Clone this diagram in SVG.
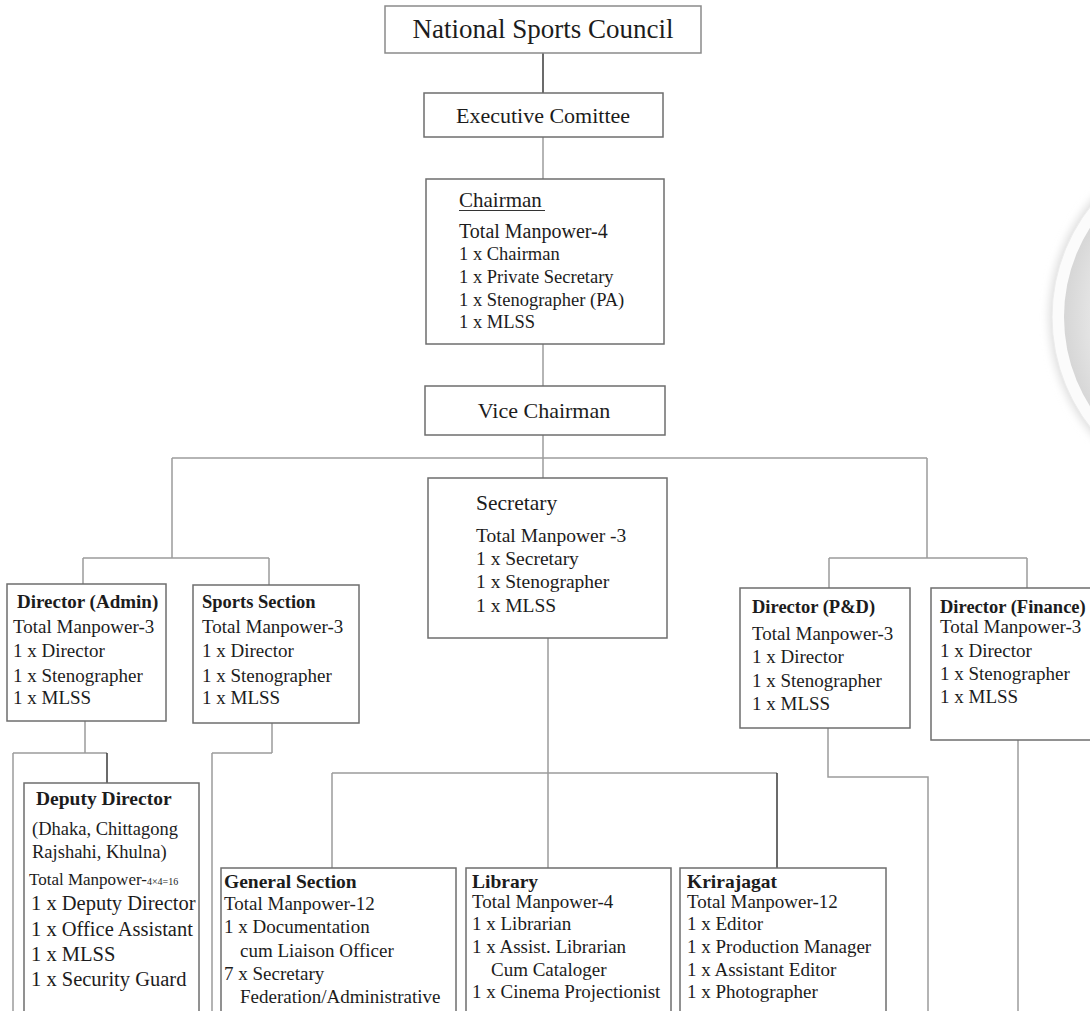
<svg xmlns="http://www.w3.org/2000/svg" width="1090" height="1011" viewBox="0 0 1090 1011">
<style>
.box{fill:#fff;stroke:#6e6e6e;stroke-width:1.5}
.ln{fill:none;stroke:#9c9c9c;stroke-width:1.5}
.dk{stroke:#3a3a3a}
text{font-family:"Liberation Serif","Times New Roman",serif;fill:#1c1c1c}
.h{font-weight:bold;font-size:19px}
.t{font-size:19px}
.c{text-anchor:middle}
</style>
<defs>
<radialGradient id="rg" cx="0.55" cy="0.5" r="0.55">
<stop offset="0" stop-color="#f6f6f6"/>
<stop offset="0.75" stop-color="#eeeeee"/>
<stop offset="1" stop-color="#d6d6d6"/>
</radialGradient>
<filter id="bl" x="-20%" y="-20%" width="140%" height="140%"><feGaussianBlur stdDeviation="4"/></filter>
</defs>
<rect width="1090" height="1011" fill="#fff"/>
<g id="emblem">
<circle cx="1230" cy="317" r="181" fill="#dedede" filter="url(#bl)"/>
<circle cx="1230" cy="317" r="178" fill="#fbfbfb" stroke="#ececec" stroke-width="1"/>
<circle cx="1230" cy="317" r="166" fill="url(#rg)"/>
</g>
<g id="connectors">
<path class="ln dk" d="M543 53V93"/>
<path class="ln" d="M543 137V179"/>
<path class="ln" d="M543 344V386"/>
<path class="ln" d="M543 435V478"/>
<path class="ln" d="M172 458H927"/>
<path class="ln" d="M172 458V558M83 558H269M83 558V584M269 558V585"/>
<path class="ln" d="M927 458V558M829 558H1027M829 558V588M1027 558V588"/>
<path class="ln" d="M85 721V753M13 753H107M13 753V1011"/>
<path class="ln dk" d="M107 753V783"/>
<path class="ln" d="M272 723V753M212 753H272M212 753V1011"/>
<path class="ln" d="M548 638V868M332 773H777M332 773V868"/>
<path class="ln dk" d="M777 773V868"/>
<path class="ln" d="M828 728V777H928V1011"/>
<path class="ln" d="M1018 740V1011"/>
</g>
<g id="nsc">
<rect class="box" x="385" y="6" width="316" height="47" style="stroke:#8a8a8a"/>
<text class="c" x="543" y="38" font-size="27">National Sports Council</text>
</g>
<g id="executive">
<rect class="box" x="424" y="93" width="239" height="44"/>
<text class="c" x="543" y="123" font-size="22">Executive Comittee</text>
</g>
<g id="chairman">
<rect class="box" x="426" y="179" width="238" height="165"/>
<text x="459" y="207" font-size="21">Chairman</text>
<path d="M459 210.5H545" stroke="#333" stroke-width="1"/>
<text x="459" y="238" font-size="20">Total Manpower-4</text>
<text x="459" y="260" font-size="18.5">1 x Chairman</text>
<text x="459" y="283" font-size="18.5">1 x Private Secretary</text>
<text x="459" y="306" font-size="18.5">1 x Stenographer (PA)</text>
<text x="459" y="328" font-size="18.5">1 x MLSS</text>
</g>
<g id="vice-chairman">
<rect class="box" x="425" y="386" width="240" height="49"/>
<text class="c" x="544" y="418" font-size="22">Vice Chairman</text>
</g>
<g id="secretary">
<rect class="box" x="428" y="478" width="239" height="160"/>
<text x="476" y="510" font-size="21.5">Secretary</text>
<text x="476" y="542" font-size="19.5">Total Manpower -3</text>
<text x="476" y="565" font-size="19.5">1 x Secretary</text>
<text x="476" y="588" font-size="19.5">1 x Stenographer</text>
<text x="476" y="612" font-size="19.5">1 x MLSS</text>
</g>
<g id="director-admin">
<rect class="box" x="7" y="584" width="159" height="137"/>
<text class="h" x="17" y="608" font-size="18.5">Director (Admin)</text>
<text class="t" x="13" y="633">Total Manpower-3</text>
<text class="t" x="13" y="657">1 x Director</text>
<text class="t" x="13" y="682">1 x Stenographer</text>
<text class="t" x="13" y="704">1 x MLSS</text>
</g>
<g id="sports-section">
<rect class="box" x="193" y="585" width="166" height="138"/>
<text class="h" x="202" y="608" style="font-size:18.5px">Sports Section</text>
<text class="t" x="202" y="633">Total Manpower-3</text>
<text class="t" x="202" y="657">1 x Director</text>
<text class="t" x="202" y="682">1 x Stenographer</text>
<text class="t" x="202" y="704">1 x MLSS</text>
</g>
<g id="director-pd">
<rect class="box" x="740" y="588" width="170" height="140"/>
<text class="h" x="752" y="613" style="font-size:18.5px">Director (P&amp;D)</text>
<text class="t" x="752" y="640">Total Manpower-3</text>
<text class="t" x="752" y="663">1 x Director</text>
<text class="t" x="752" y="687">1 x Stenographer</text>
<text class="t" x="752" y="710">1 x MLSS</text>
</g>
<g id="director-finance">
<rect class="box" x="931" y="588" width="170" height="152"/>
<text class="h" x="940" y="613" style="font-size:18.5px">Director (Finance)</text>
<text class="t" x="940" y="633">Total Manpower-3</text>
<text class="t" x="940" y="657">1 x Director</text>
<text class="t" x="940" y="680">1 x Stenographer</text>
<text class="t" x="940" y="703">1 x MLSS</text>
</g>
<g id="deputy-director">
<rect class="box" x="24" y="783" width="175" height="240"/>
<text class="h" x="36" y="805" style="font-size:19.5px">Deputy Director</text>
<text x="32" y="835" font-size="18.5">(Dhaka, Chittagong</text>
<text x="32" y="858" font-size="18.5">Rajshahi, Khulna)</text>
<text x="29" y="885" font-size="17">Total Manpower-<tspan font-size="10">4×4=16</tspan></text>
<text x="31" y="910" font-size="20.5">1 x Deputy Director</text>
<text x="31" y="936" font-size="20.5">1 x Office Assistant</text>
<text x="31" y="961" font-size="20.5">1 x MLSS</text>
<text x="31" y="986" font-size="20.5">1 x Security Guard</text>
</g>
<g id="general-section">
<rect class="box" x="221" y="868" width="235" height="155"/>
<text class="h" x="224" y="888" style="font-size:19.5px">General Section</text>
<text class="t" x="224" y="910">Total Manpower-12</text>
<text class="t" x="224" y="933">1 x Documentation</text>
<text class="t" x="240" y="957">cum Liaison Officer</text>
<text class="t" x="224" y="980">7 x Secretary</text>
<text class="t" x="240" y="1003">Federation/Administrative</text>
</g>
<g id="library">
<rect class="box" x="466" y="868" width="205" height="155"/>
<text class="h" x="472" y="888" style="font-size:19.5px">Library</text>
<text class="t" x="472" y="908">Total Manpower-4</text>
<text class="t" x="472" y="930">1 x Librarian</text>
<text class="t" x="472" y="953">1 x Assist. Librarian</text>
<text class="t" x="491" y="976">Cum Cataloger</text>
<text class="t" x="472" y="998">1 x Cinema Projectionist</text>
</g>
<g id="krirajagat">
<rect class="box" x="680" y="868" width="206" height="155"/>
<text class="h" x="687" y="888" style="font-size:19.5px">Krirajagat</text>
<text class="t" x="687" y="908">Total Manpower-12</text>
<text class="t" x="687" y="930">1 x Editor</text>
<text class="t" x="687" y="953">1 x Production Manager</text>
<text class="t" x="687" y="976">1 x Assistant Editor</text>
<text class="t" x="687" y="998">1 x Photographer</text>
</g>
</svg>
